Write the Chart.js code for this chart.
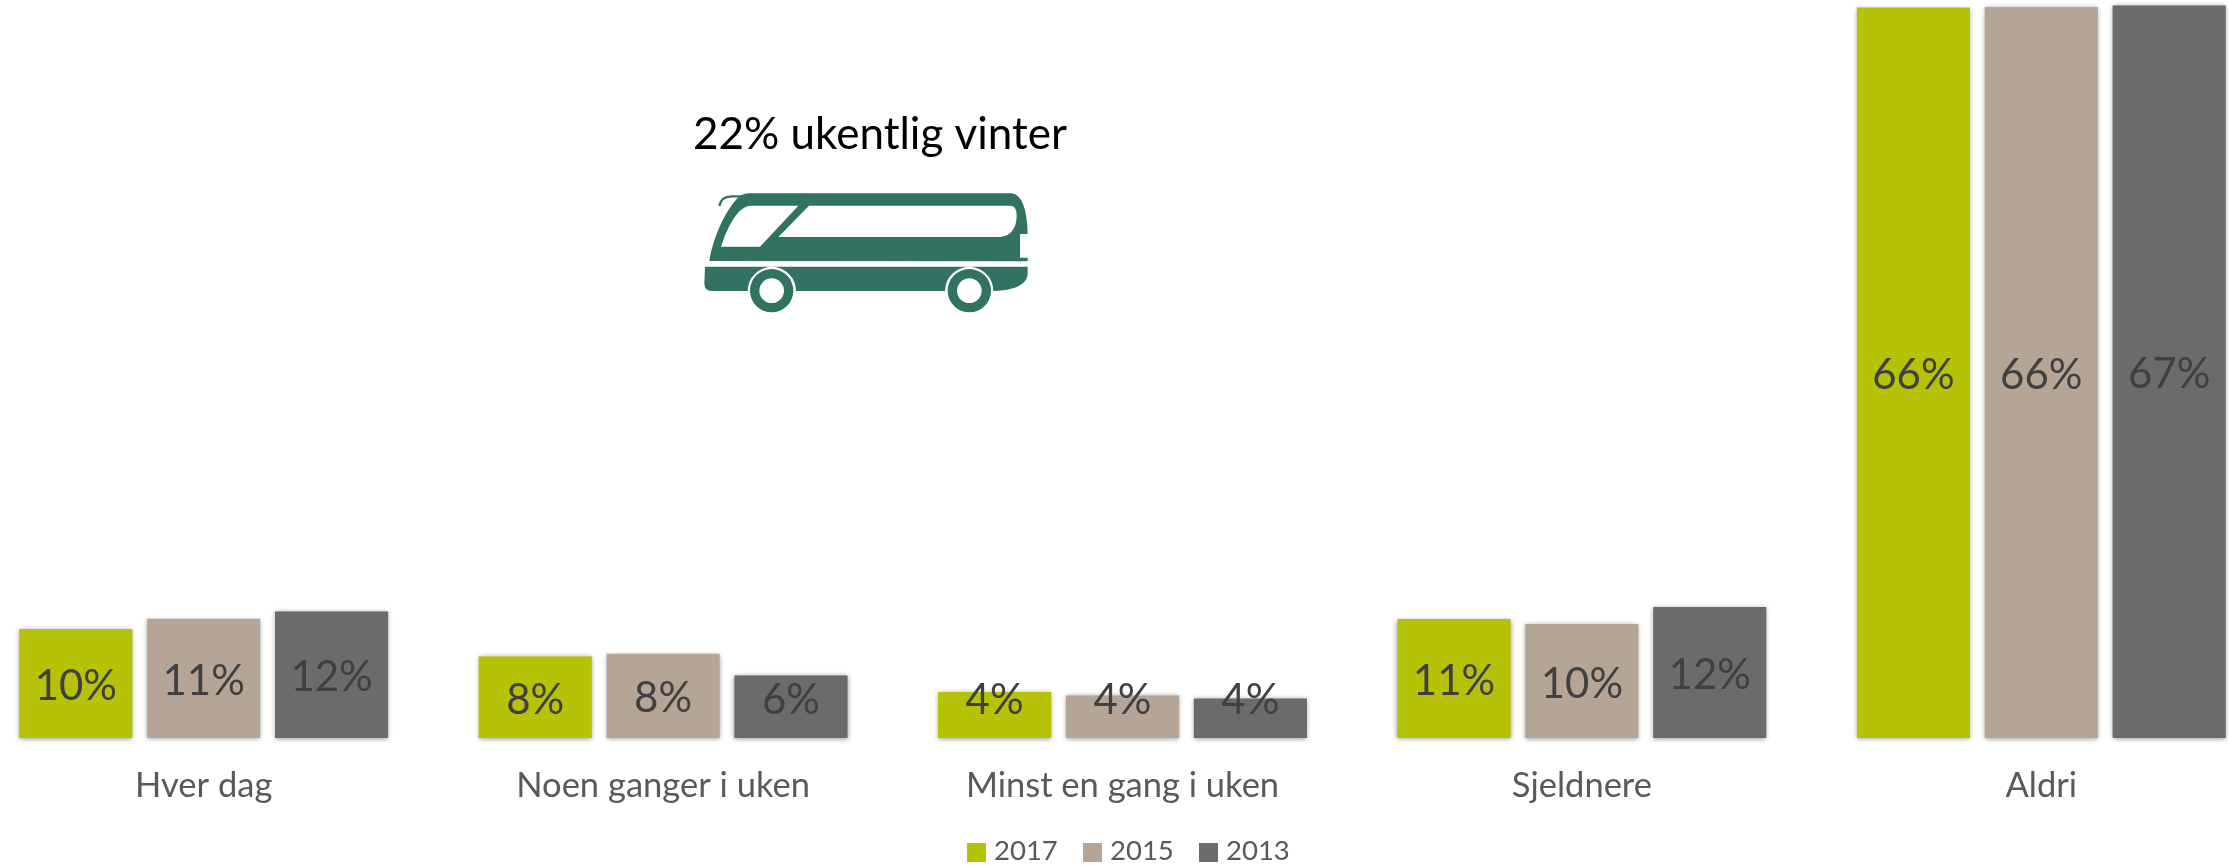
<!DOCTYPE html>
<html lang="no">
<head>
<meta charset="utf-8">
<title>22% ukentlig vinter</title>
<script src="https://cdn.jsdelivr.net/npm/chart.js@4"></script>
<style>
html,body{margin:0;padding:0;background:#fff;width:2229px;height:865px;overflow:hidden}
#wrap{position:absolute;left:-26px;top:0;width:2297px;height:865px}
#bus{position:absolute;left:650px;top:90px;width:450px;height:240px}
</style>
</head>
<body>
<div id="wrap"><canvas id="c" width="2297" height="865"></canvas></div>
<svg id="bus" viewBox="0 0 1350 720" aria-hidden="true">
  <g fill="#327261">
    <path fill-rule="evenodd" d="M178 513 C190 440 225 365 262 325 Q275 311 295 310 L1085 310 Q1130 315 1133 432 L1110 432 L1110 503 L1133 503 L1133 514 Z
      M213 470 L330 470 L445 347 L305 347 Q285 347 268 364 Q235 400 213 470 Z
      M385 441 L1050 441 Q1100 435 1100 375 Q1100 347 1080 347 L477 347 Z"/>
    <path d="M165 530 L1133 530 L1133 555 Q1125 600 1030 603 A72 72 0 0 0 885 603 L438 603 A72 72 0 0 0 293 603 L185 603 Q163 603 163 580 Z"/>
    <path fill-rule="evenodd" d="M300 602 a65 65 0 1 0 130 0 a65 65 0 1 0 -130 0 Z M328 602 a37 37 0 1 1 74 0 a37 37 0 1 1 -74 0 Z"/>
    <path fill-rule="evenodd" d="M893 602 a65 65 0 1 0 130 0 a65 65 0 1 0 -130 0 Z M921 602 a37 37 0 1 1 74 0 a37 37 0 1 1 -74 0 Z"/>
  </g>
  <path d="M208 348 Q212 320 245 319 L310 319" fill="none" stroke="#327261" stroke-width="7"/>
</svg>
<script>
const categories = ["Hver dag", "Noen ganger i uken", "Minst en gang i uken", "Sjeldnere", "Aldri"];
const seriesNames = ["2017", "2015", "2013"];
const values2017 = [9.9, 7.42, 4.18, 10.82, 66.4];
const values2015 = [10.85, 7.66, 3.87, 10.36, 66.45];
const values2013 = [11.5, 5.69, 3.6, 11.9, 66.6];
const labels2017 = ["10%", "8%", "4%", "11%", "66%"];
const labels2015 = ["11%", "8%", "4%", "10%", "66%"];
const labels2013 = ["12%", "6%", "4%", "12%", "67%"];
const seriesColors = ["#b5c205", "#b5a597", "#6a6b6d"];
const titleText = "22% ukentlig vinter";

const allLabels = [labels2017, labels2015, labels2013];

const barShadow = {
  id: "barShadow",
  beforeDatasetsDraw(chart) {
    const c = chart.ctx;
    c.save();
    c.shadowColor = "rgba(0,0,0,0.4)";
    c.shadowBlur = 5;
    c.shadowOffsetX = 0;
    c.shadowOffsetY = 1;
  },
  afterDatasetsDraw(chart) { chart.ctx.restore(); }
};

const annotations = {
  id: "annotations",
  afterDraw(chart) {
    const c = chart.ctx;
    c.save();
    c.shadowColor = "transparent";
    // value labels
    c.textAlign = "center";
    c.textBaseline = "middle";
    c.fillStyle = "#404040";
    c.font = "42px Lato";
    chart.data.datasets.forEach((ds, i) => {
      chart.getDatasetMeta(i).data.forEach((bar, j) => {
        const mid = (bar.y + bar.base) / 2 + 3;
        c.fillText(allLabels[i][j], bar.x, Math.min(mid, 700));
      });
    });
    // title, page x 880 (canvas offset 26)
    c.fillStyle = "#000";
    c.font = "44px Lato";
    c.fillText(titleText, 880 + 26, 135);
    // legend
    c.font = "27.5px Lato";
    c.textAlign = "left";
    chart.data.datasets.forEach((ds, i) => {
      const x = 967 + 26 + i * 116;
      c.fillStyle = ds.backgroundColor;
      c.fillRect(x, 843, 19, 19);
      c.fillStyle = "#595959";
      c.fillText(ds.label, x + 27, 851);
    });
    c.restore();
  }
};

const makeDs = (i, data) => ({
  label: seriesNames[i], data,
  backgroundColor: seriesColors[i],
  borderWidth: 0,
  categoryPercentage: 0.835,
  barPercentage: 0.885,
  clip: false
});

new Chart(document.getElementById("c"), {
  type: "bar",
  data: {
    labels: categories,
    datasets: [makeDs(0, values2017), makeDs(1, values2015), makeDs(2, values2013)]
  },
  options: {
    responsive: false,
    animation: false,
    layout: { padding: 0 },
    plugins: { legend: { display: false }, title: { display: false }, tooltip: { enabled: false } },
    scales: {
      x: {
        grid: { display: false, drawTicks: false },
        border: { display: false },
        afterFit(scale) { scale.height = 127; },
        ticks: { autoSkip: false, maxRotation: 0, minRotation: 0, padding: 27, color: "#595959", font: { family: "Lato", size: 34.5 } }
      },
      y: { display: false, min: 0, max: 67.09 }
    }
  },
  plugins: [barShadow, annotations]
});
</script>
</body>
</html>
